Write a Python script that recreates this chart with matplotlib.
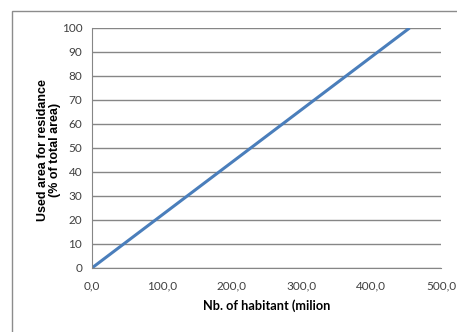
import matplotlib
matplotlib.use('Agg')
import matplotlib.pyplot as plt
from matplotlib.patches import Rectangle
from matplotlib.ticker import FuncFormatter

# ── Data ──────────────────────────────────────────────────────────────────
habitants = [0.0, 455.0]          # million inhabitants
used_area = [0.0, 100.0]          # % of total area

x_ticks = [0, 100, 200, 300, 400, 500]
y_ticks = [0, 10, 20, 30, 40, 50, 60, 70, 80, 90, 100]

plt.rcParams['font.family'] = ['Lato', 'DejaVu Sans']

fig = plt.figure(figsize=(4.57, 3.32), dpi=100)
ax = fig.add_axes([0.2013, 0.193, 0.7637, 0.7227])

# chart border (Excel style, clipped at right/bottom)
fig.patches.append(Rectangle((12 / 457, -0.1), 1.2, 1.1 - 11 / 332,
                             transform=fig.transFigure, fill=False,
                             edgecolor='#8c8c8c', linewidth=1.0))

ax.plot(habitants, used_area, color='#4a7ebb', linewidth=2.2, solid_capstyle='butt')

ax.set_xlim(0, 500)
ax.set_ylim(0, 100)
ax.set_xticks(x_ticks)
ax.set_yticks(y_ticks)
ax.xaxis.set_major_formatter(FuncFormatter(lambda v, p: f"{v:.1f}".replace('.', ',')))
ax.yaxis.grid(True, color='#868686', linewidth=1.0)
ax.set_axisbelow(True)

for s in ['top', 'right']:
    ax.spines[s].set_visible(False)
for s in ['left', 'bottom']:
    ax.spines[s].set_color('#868686')
ax.tick_params(axis='both', length=0, labelsize=8.5, colors='#404040', pad=7)
ax.tick_params(axis='x', pad=9)

ax.set_xlabel('Nb. of habitant (milion', fontsize=9.2, fontweight='bold')
ax.xaxis.set_label_coords(0.5, -0.13)
ax.set_ylabel('Used area for residance\n(% of total area)', fontsize=9,
              fontweight='bold', linespacing=1.0,
              family=['Liberation Sans', 'DejaVu Sans'])
ax.yaxis.set_label_coords(-0.09, 0.49)

plt.savefig('out.png', dpi=100)
plt.close()
